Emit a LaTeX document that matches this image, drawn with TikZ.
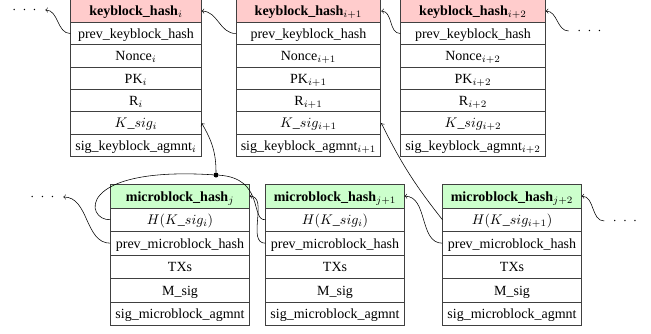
\documentclass[tikz,border=0pt]{standalone}
\usepackage{fontspec}
\setmainfont{Liberation Serif}
\usepackage{amsmath}
\usetikzlibrary{shapes.multipart}

\newcommand{\krow}{\rule[-4.3pt]{0pt}{15.4pt}}
\newcommand{\mrow}{\rule[-4.6pt]{0pt}{16.2pt}}
\newcommand{\more}{$\cdot$\hspace{4.5pt}$\cdot$\hspace{4.5pt}$\cdot$}

\tikzset{
	block/.style={rectangle split, rectangle split draw splits, draw=black!75, line width=0.6pt, inner xsep=3.3pt, inner ysep=0pt, anchor=north},
	keyblock/.style={block, rectangle split parts=7, rectangle split part fill={red!20,white}},
	microblock/.style={block, rectangle split parts=6, rectangle split part fill={green!20,white}},
	more/.style={inner xsep=6pt, inner ysep=0pt},
	link/.style={->, thin}
}

\begin{document}
\begin{tikzpicture}[x=0.7143pt, y=0.7143pt]
					\useasboundingbox (0,0) rectangle (651,-334);

					\node (kb1) at (136,0.5) [keyblock] {\krow\textbf{keyblock\_hash}$_i$
						\nodepart{two}\krow prev\_keyblock\_hash
						\nodepart{three}\krow Nonce$_i$
						\nodepart{four}\krow PK$_i$
						\nodepart{five}\krow R$_i$
						\nodepart{six}\krow $K\_sig_i$
						\nodepart{seven}\krow sig\_keyblock\_agmnt$_i$};
					\node (kb2) at (308.5,0.5) [keyblock] {\krow\textbf{keyblock\_hash}$_{i+1}$
						\nodepart{two}\krow prev\_keyblock\_hash
						\nodepart{three}\krow Nonce$_{i+1}$
						\nodepart{four}\krow PK$_{i+1}$
						\nodepart{five}\krow R$_{i+1}$
						\nodepart{six}\krow $K\_sig_{i+1}$
						\nodepart{seven}\krow sig\_keyblock\_agmnt$_{i+1}$};
					\node (kb3) at (473,0.5) [keyblock] {\krow\textbf{keyblock\_hash}$_{i+2}$
						\nodepart{two}\krow prev\_keyblock\_hash
						\nodepart{three}\krow Nonce$_{i+2}$
						\nodepart{four}\krow PK$_{i+2}$
						\nodepart{five}\krow R$_{i+2}$
						\nodepart{six}\krow $K\_sig_{i+2}$
						\nodepart{seven}\krow sig\_keyblock\_agmnt$_{i+2}$};

					\node (mb1) at (180,-184) [microblock] {\mrow\textbf{microblock\_hash}$_j$
						\nodepart{two}\mrow $H(K\_sig_i)$
						\nodepart{three}\mrow prev\_microblock\_hash
						\nodepart{four}\mrow TXs
						\nodepart{five}\mrow M\_sig
						\nodepart{six}\mrow sig\_microblock\_agmnt};
					\node (mb2) at (335,-184) [microblock] {\mrow\textbf{microblock\_hash}$_{j+1}$
						\nodepart{two}\mrow $H(K\_sig_i)$
						\nodepart{three}\mrow prev\_microblock\_hash
						\nodepart{four}\mrow TXs
						\nodepart{five}\mrow M\_sig
						\nodepart{six}\mrow sig\_microblock\_agmnt};
					\node (mb3) at (512,-184) [microblock] {\mrow\textbf{microblock\_hash}$_{j+2}$
						\nodepart{two}\mrow $H(K\_sig_{i+1})$
						\nodepart{three}\mrow prev\_microblock\_hash
						\nodepart{four}\mrow TXs
						\nodepart{five}\mrow M\_sig
						\nodepart{six}\mrow sig\_microblock\_agmnt};

					\node (kmoreL) at (24.5,-10) [more] {\more};
					\node (kmoreR) at (589.5,-31) [more] {\more};
					\node (mmoreL) at (42.5,-197) [more] {\more};
					\node (mmoreR) at (625,-221) [more] {\more};
					\node (hub) at (216,-175) [circle, fill, inner sep=0pt, minimum size=3.6pt] {};

					% chain of key blocks
					\draw[link] (kb1.two west) to[out=180,in=0] (kmoreL.east);
					\draw[link] (kb2.two west) to[out=180,in=0] (kb1.one east);
					\draw[link] (kb3.two west) to[out=180,in=0] (kb2.one east);
					\draw[link] (kmoreR.west) to[out=180,in=0] (kb3.one east);

					% chain of micro blocks
					\draw[link] (mb1.three west) to[out=180,in=0] (mmoreL.east);
					\draw[link] (mb2.three west) to[out=180,in=0] (mb1.one east);
					\draw[link] (mb3.three west) to[out=180,in=0] (mb2.one east);
					\draw[link] (mmoreR.west) to[out=180,in=0] (mb3.one east);

					% hashed signatures
					\draw[link] (hub) to[out=90,in=-60] (kb1.six east);
					\draw[thin] (hub) .. controls (75,-166) and (85,-221) .. (mb1.two west);
					\draw[thin] (hub) .. controls (265,-178) and (250,-221) .. (mb2.two west);
					\draw[link] (mb3.two west) to[bend left=6] (kb2.six east);
				\end{tikzpicture}
\end{document}
